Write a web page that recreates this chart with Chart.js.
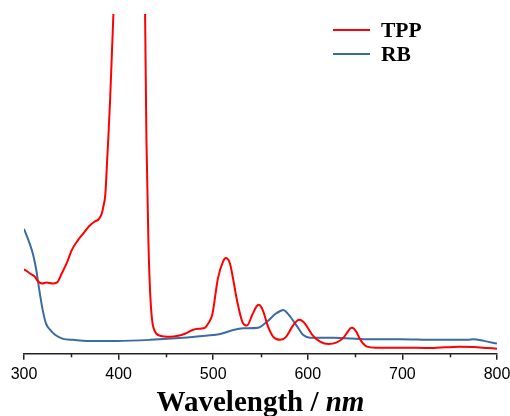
<!DOCTYPE html>
<html>
<head>
<meta charset="utf-8">
<script src="https://cdn.jsdelivr.net/npm/chart.js@4"></script>
<style>
  body { margin: 0; background: #fff; }
  #wrap { width: 510px; height: 416px; }
</style>
</head>
<body>
<div id="wrap"><canvas id="spectrum" width="510" height="416"></canvas></div>
<script>
// TPP absorption spectrum (arbitrary units, Soret band runs off the top)
const tppWavelength = [300, 306, 311, 315, 319, 324, 330, 335, 340, 345, 351, 357, 363, 369, 374, 379, 382, 384, 386, 388, 389, 391, 393, 394.5, 397, 400, 405, 410, 415, 419, 423, 426, 428, 429.5, 431.5, 433.3, 435.4, 438.6, 444, 454.5, 463, 470, 479, 486, 491.5, 494.7, 499, 505, 510.5, 513.2, 516, 518, 525.4, 530.7, 535.7, 541.3, 546, 548, 550.5, 553, 558, 563.5, 571, 577, 583.6, 589, 591.3, 594, 597, 604.7, 613, 622, 630, 637.6, 643, 645, 646.8, 648.8, 651.3, 655.6, 662.6, 671.4, 700, 730, 760, 775, 790, 800];
const tppAbs = [0.249, 0.237, 0.228, 0.213, 0.207, 0.210, 0.207, 0.210, 0.237, 0.266, 0.308, 0.334, 0.355, 0.376, 0.388, 0.396, 0.411, 0.435, 0.470, 0.575, 0.627, 0.746, 0.890, 1.0, 1.25, 1.7, 2.6, 3.6, 4.3, 4.5, 3.6, 2.1, 1.0, 0.62, 0.331, 0.183, 0.100, 0.065, 0.053, 0.050, 0.053, 0.059, 0.071, 0.074, 0.077, 0.089, 0.115, 0.222, 0.272, 0.282, 0.277, 0.263, 0.154, 0.095, 0.083, 0.115, 0.140, 0.144, 0.139, 0.124, 0.080, 0.050, 0.041, 0.050, 0.080, 0.098, 0.100, 0.097, 0.089, 0.056, 0.036, 0.029, 0.033, 0.047, 0.068, 0.075, 0.077, 0.074, 0.065, 0.041, 0.021, 0.018, 0.018, 0.017, 0.021, 0.020, 0.017, 0.015];

// RB absorption spectrum
const rbWavelength = [300, 306.3, 309.5, 312.7, 314.8, 316.9, 320.1, 323.3, 327.5, 332.8, 341.3, 351.9, 366.7, 398.4, 433.3, 468.3, 486.2, 500, 507.4, 521.2, 531.7, 547.6, 557.1, 565.6, 571, 574, 577, 581.5, 588.9, 595.2, 602.6, 627, 663, 698, 733, 769, 775, 786, 800];
const rbAbs = [0.368, 0.322, 0.293, 0.251, 0.213, 0.175, 0.124, 0.089, 0.071, 0.056, 0.044, 0.041, 0.038, 0.038, 0.041, 0.047, 0.052, 0.055, 0.058, 0.070, 0.075, 0.077, 0.095, 0.117, 0.126, 0.129, 0.124, 0.109, 0.080, 0.055, 0.047, 0.047, 0.043, 0.043, 0.041, 0.041, 0.043, 0.038, 0.030];

const seriesNames = ["TPP", "RB"];
const seriesColors = ["#ff0000", "#3b6ba5"];
const majorTicks = [300, 400, 500, 600, 700, 800];
const minorTicks = [350, 450, 550, 650, 750];

function toPoints(xs, ys) {
    return xs.map((x, i) => ({ x: x, y: ys[i] }));
}

// legend drawn inside the plot, top right
const insideLegend = {
    id: "insideLegend",
    afterDraw(chart) {
        const ctx = chart.ctx;
        const area = chart.chartArea;
        ctx.save();
        chart.data.datasets.forEach((ds, i) => {
            const y = area.top + 16 + i * 24;
            ctx.strokeStyle = ds.borderColor;
            ctx.lineWidth = 2;
            ctx.beginPath();
            ctx.moveTo(area.right - 164, y);
            ctx.lineTo(area.right - 127, y);
            ctx.stroke();
            ctx.fillStyle = "#000";
            ctx.font = 'bold 21.5px "Liberation Serif"';
            ctx.textBaseline = "middle";
            ctx.fillText(ds.label, area.right - 116, y + 1);
        });
        ctx.restore();
    }
};

// minor ticks + axis title with italic unit
const axisExtras = {
    id: "axisExtras",
    afterDraw(chart) {
        const ctx = chart.ctx;
        const area = chart.chartArea;
        const xs = chart.scales.x;
        ctx.save();
        ctx.strokeStyle = "#222";
        ctx.lineWidth = 1.5;
        minorTicks.forEach(v => {
            const px = Math.round(xs.getPixelForValue(v)) + 0.5;
            ctx.beginPath();
            ctx.moveTo(px, area.bottom);
            ctx.lineTo(px, area.bottom + 3.5);
            ctx.stroke();
        });

        const partA = "Wavelength / ";
        const partB = "nm";
        const fontA = 'bold 29px "Liberation Serif"';
        const fontB = 'italic bold 29px "Liberation Serif"';
        ctx.font = fontA;
        const wA = ctx.measureText(partA).width;
        ctx.font = fontB;
        const wB = ctx.measureText(partB).width;
        let x0 = (area.left + area.right) / 2 - (wA + wB) / 2;
        ctx.fillStyle = "#000";
        ctx.textBaseline = "alphabetic";
        ctx.font = fontA;
        ctx.fillText(partA, x0, 411);
        ctx.font = fontB;
        ctx.fillText(partB, x0 + wA, 411);
        ctx.restore();
    }
};

new Chart(document.getElementById("spectrum"), {
    type: "line",
    data: {
        datasets: [
            {
                label: seriesNames[0],
                data: toPoints(tppWavelength, tppAbs),
                borderColor: seriesColors[0],
                borderWidth: 2,
                pointRadius: 0,
                cubicInterpolationMode: "monotone",
                fill: false
            },
            {
                label: seriesNames[1],
                data: toPoints(rbWavelength, rbAbs),
                borderColor: seriesColors[1],
                borderWidth: 2,
                pointRadius: 0,
                cubicInterpolationMode: "monotone",
                fill: false
            }
        ]
    },
    options: {
        responsive: false,
        animation: false,
        events: [],
        layout: { padding: { left: 24, right: 13, top: 14, bottom: 27 } },
        plugins: {
            legend: { display: false },
            tooltip: { enabled: false }
        },
        scales: {
            x: {
                type: "linear",
                min: 300,
                max: 800,
                afterBuildTicks: (scale) => {
                    scale.ticks = majorTicks.map(v => ({ value: v }));
                },
                afterFit: (scale) => {
                    // let the end labels hang into the page margin
                    scale.paddingLeft = 0;
                    scale.paddingRight = 0;
                },
                border: { display: true, color: "#222", width: 1.5 },
                grid: { drawOnChartArea: false, drawTicks: true, tickLength: 6, color: "#222", lineWidth: 1.5 },
                ticks: {
                    color: "#000",
                    padding: 5,
                    maxRotation: 0,
                    font: { family: '"Liberation Sans", Arial, sans-serif', size: 16 }
                }
            },
            y: {
                display: false,
                min: 0,
                max: 1
            }
        }
    },
    plugins: [insideLegend, axisExtras]
});
</script>
</body>
</html>
